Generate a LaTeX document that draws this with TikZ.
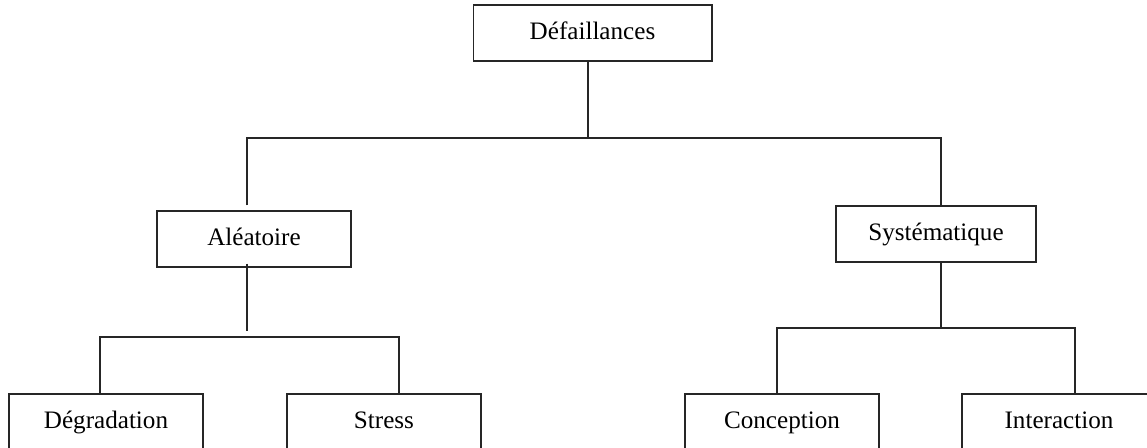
\documentclass[tikz,border=0pt]{standalone}
\usepackage{fontspec}
\setmainfont{Liberation Serif}
\begin{document}
\begin{tikzpicture}[x=0.02cm, y=-0.02cm, line width=0.6pt, draw=black!85,
    box/.style={draw=black!85, minimum width=3.88cm, minimum height=1.12cm, inner sep=0pt,
        text height=10pt, text depth=3pt, font=\fontsize{14.3}{17}\selectfont}]
        \useasboundingbox (0,0) rectangle (1147,448);
        \clip (0,0) rectangle (1147,448);
        % boxes
        \node[box, minimum width=4.78cm] (def) at (592.5,33) {Défaillances};
        \node[box] (ale) at (254,239) {Aléatoire};
        \node[box, minimum width=4cm] (sys) at (936,234) {Systématique};
        \node[box] (deg) at (106,422) {Dégradation};
        \node[box] (str) at (384,422) {Stress};
        \node[box] (con) at (782,422) {Conception};
        \node[box] (int) at (1059,422) {Interaction};
        % junctions
        \coordinate (j0) at (588,138);
        \coordinate (jl) at (247,138);
        \coordinate (jr) at (941,138);
        \coordinate (al) at (100,337);
        \coordinate (ar) at (399,337);
        \coordinate (sl) at (777,328);
        \coordinate (sr) at (1075,328);
        % connectors
        \draw (def.south -| j0) -- (j0);
        \draw ([yshift=0.1cm]ale.north -| jl) -- (jl) -- (jr) -- (sys.north -| jr);
        \draw ([yshift=0.08cm]ale.south -| 247,0) -- ++(0,67);
        \draw (deg.north -| al) -- (al) -- (ar) -- (str.north -| ar);
        \draw (sys.south -| 941,0) -- (941,328);
        \draw (con.north -| sl) -- (sl) -- (sr) -- (int.north -| sr);
    \end{tikzpicture}
\end{document}
